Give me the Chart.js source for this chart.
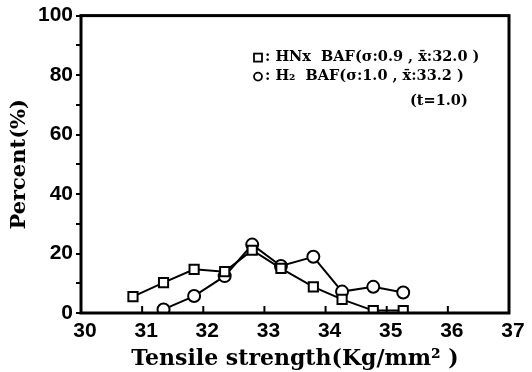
<!DOCTYPE html>
<html><head><meta charset="utf-8">
<script src="https://cdn.jsdelivr.net/npm/chart.js@4"></script>
<style>html,body{margin:0;padding:0;background:#fff}</style>
</head><body>
<canvas id="c" width="532" height="372"></canvas>
<script>
// Data
const strength = [30.85, 31.35, 31.85, 32.35, 32.8, 33.27, 33.8, 34.27, 34.78, 35.27];
const pctHNx   = [5.5, 10.2, 14.7, 13.9, 21.1, 15.0, 8.8, 4.6, 0.8, 0.8];
const pctH2    = [null, 1.2, 5.7, 12.4, 23.0, 15.8, 18.9, 7.2, 8.8, 6.9];
const xTicks = [30, 31, 32, 33, 34, 35, 36, 37];
const yTicks = [0, 20, 40, 60, 80, 100];
const legendLines = [": HNx  BAF(σ:0.9 , x̄:32.0 )", ": H₂  BAF(σ:1.0 , x̄:33.2 )", "(t=1.0)"];
const seriesNames = ["HNx BAF", "H₂ BAF"];

function pts(xs, ys){ const o=[]; xs.forEach((x,i)=>{ if(ys[i]!==null) o.push({x:x,y:ys[i]}); }); return o; }

const framePlugin = {
  id:'frame',
  afterDatasetsDraw(chart){
    const {ctx, chartArea:a, scales} = chart;
    ctx.save();
    ctx.strokeStyle='#000'; ctx.lineWidth=3;
    ctx.strokeRect(a.left, a.top, a.right-a.left, a.bottom-a.top);
    ctx.lineWidth=2;
    xTicks.forEach(v=>{
      if(v===30||v===37) return;
      const x=scales.x.getPixelForValue(v);
      ctx.beginPath(); ctx.moveTo(x,a.bottom); ctx.lineTo(x,a.bottom-7); ctx.stroke();
    });
    // legend
    const lx = a.left + 177, ly1 = a.top + 42, ly2 = a.top + 61, ly3 = a.top + 86;
    ctx.lineWidth=1.8;
    ctx.strokeRect(lx-4, ly1-4, 8, 8);
    ctx.beginPath(); ctx.arc(lx, ly2, 4, 0, Math.PI*2); ctx.stroke();
    ctx.fillStyle='#000';
    ctx.font='bold 14.5px "DejaVu Serif"';
    ctx.textBaseline='middle';
    ctx.fillText(legendLines[0], lx+7, ly1);
    ctx.fillText(legendLines[1], lx+7, ly2);
    ctx.fillText(legendLines[2], a.left+329, ly3);
    ctx.restore();
  }
};

new Chart(document.getElementById('c'), {
  type:'scatter',
  data:{datasets:[
    {label:seriesNames[0], data:pts(strength,pctHNx), showLine:true, borderColor:'#000', borderWidth:2,
     pointStyle:'rect', pointRadius:6.5, pointBackgroundColor:'#fff', pointBorderColor:'#000', pointBorderWidth:2},
    {label:seriesNames[1], data:pts(strength,pctH2), showLine:true, borderColor:'#000', borderWidth:2,
     pointStyle:'circle', pointRadius:6, pointBackgroundColor:'#fff', pointBorderColor:'#000', pointBorderWidth:2}
  ]},
  plugins:[framePlugin],
  options:{
    responsive:false, animation:false, devicePixelRatio:1,
    layout:{padding:{top:15,right:23,left:7,bottom:0}},
    plugins:{legend:{display:false}, tooltip:{enabled:false}},
    scales:{
      x:{type:'linear', min:30, max:37,
        afterBuildTicks(s){ s.ticks = xTicks.map(v=>({value:v})); },
        afterFit(s){ s.height = 59; },
        ticks:{color:'#000', font:{family:'"Liberation Sans"', size:21, weight:'bold'}, padding:6, labelOffset:4, maxRotation:0, autoSkip:false},
        grid:{display:false, drawTicks:false},
        border:{display:false},
        title:{display:true, text:'Tensile strength(Kg/mm² )', color:'#000', font:{family:'"DejaVu Serif"', size:22, weight:'bold'}, padding:{top:0,bottom:0}}
      },
      y:{type:'linear', min:0, max:100,
        afterBuildTicks(s){ const t=[]; for(let v=0; v<=100; v+=10) t.push({value:v}); s.ticks=t; },
        afterFit(s){ s.width = 74; },
        ticks:{color:'#000', font:{family:'"Liberation Sans"', size:21, weight:'bold'}, padding:3,
          callback:(v)=> yTicks.includes(v) ? String(v) : ''},
        grid:{drawOnChartArea:false, drawTicks:true, tickLength:5, color:'#000', lineWidth:2},
        border:{display:false},
        title:{display:true, text:'Percent(%)', color:'#000', font:{family:'"DejaVu Serif"', size:21, weight:'bold'}, padding:{top:0,bottom:4}}
      }
    }
  }
});
</script>
</body></html>
